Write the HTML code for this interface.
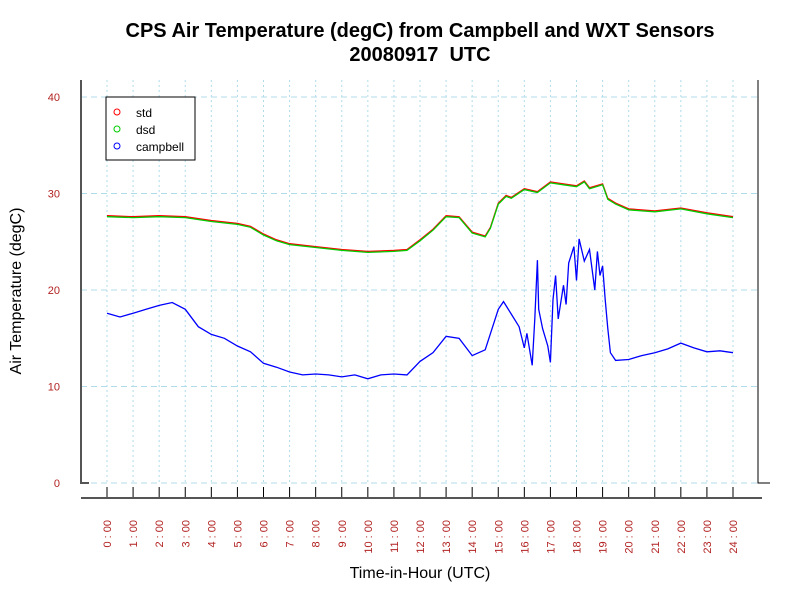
<!DOCTYPE html>
<html><head><meta charset="utf-8"><style>
body{margin:0;background:#fff;}
svg{display:block;font-family:"Liberation Sans",sans-serif;}
</style></head><body>
<svg id="chart" width="800" height="600" viewBox="0 0 800 600">
<text x="420" y="37" text-anchor="middle" font-size="20" font-weight="bold">CPS Air Temperature (degC) from Campbell and WXT Sensors</text>
<text x="420" y="61" text-anchor="middle" font-size="20" font-weight="bold">20080917&#160;&#160;UTC</text>
<text transform="translate(21,291) rotate(-90)" text-anchor="middle" font-size="16">Air Temperature (degC)</text>
<text x="420" y="578" text-anchor="middle" font-size="16">Time-in-Hour (UTC)</text>
<g id="grid"></g><g id="axes"></g><g id="series"></g>
<g>
<rect x="106" y="97" width="89" height="63" fill="#fff" stroke="#000"/>
<circle cx="117" cy="112" r="3" fill="none" stroke="#f00"/><text x="136" y="117" font-size="12">std</text>
<circle cx="117" cy="129" r="3" fill="none" stroke="#0c0"/><text x="136" y="134" font-size="12">dsd</text>
<circle cx="117" cy="146" r="3" fill="none" stroke="#00f"/><text x="136" y="151" font-size="12">campbell</text>
</g>
</svg>
<script>
const yTicks=[0,10,20,30,40];
const hours=[0,1,2,3,4,5,6,7,8,9,10,11,12,13,14,15,16,17,18,19,20,21,22,23,24];
const stdT=[0,1,2,3,4,5,5.5,6,6.5,7,8,9,10,11,11.5,12,12.5,13,13.5,14,14.5,14.7,15,15.3,15.5,16,16.5,17,17.5,18,18.3,18.5,19,19.2,19.5,20,21,22,23,24];
const stdV=[27.7,27.6,27.7,27.6,27.2,26.9,26.6,25.8,25.2,24.8,24.5,24.2,24.0,24.1,24.2,25.2,26.3,27.7,27.6,26.0,25.6,26.5,29.0,29.8,29.6,30.5,30.2,31.2,31.0,30.8,31.3,30.6,31.0,29.5,29.0,28.4,28.2,28.5,28.0,27.6];
const dsdV=[27.6,27.5,27.6,27.5,27.1,26.8,26.5,25.7,25.1,24.7,24.4,24.1,23.9,24.0,24.1,25.1,26.2,27.6,27.5,25.9,25.5,26.4,28.9,29.7,29.5,30.4,30.1,31.1,30.9,30.7,31.2,30.5,30.9,29.4,28.9,28.3,28.1,28.4,27.9,27.5];
const campT=[0,0.5,1,1.5,2,2.5,3,3.5,4,4.5,5,5.5,6,6.5,7,7.5,8,8.5,9,9.5,10,10.5,11,11.5,12,12.5,13,13.5,14,14.5,15,15.2,15.5,15.8,16,16.1,16.3,16.4,16.5,16.55,16.7,16.9,17,17.1,17.2,17.3,17.5,17.6,17.7,17.9,18,18.1,18.3,18.5,18.7,18.8,18.9,19,19.1,19.2,19.3,19.5,20,20.5,21,21.5,22,22.5,23,23.5,24];
const campV=[17.6,17.2,17.6,18.0,18.4,18.7,18.0,16.2,15.4,15.0,14.2,13.6,12.4,12.0,11.5,11.2,11.3,11.2,11.0,11.2,10.8,11.2,11.3,11.2,12.6,13.5,15.2,15.0,13.2,13.8,18.0,18.8,17.5,16.2,14.0,15.5,12.2,17.0,23.1,18.0,16.0,14.2,12.5,19.0,21.5,17.0,20.5,18.5,22.8,24.5,21.0,25.3,23.0,24.2,20.0,24.0,21.5,22.5,19.0,16.0,13.5,12.7,12.8,13.2,13.5,13.9,14.5,14.0,13.6,13.7,13.5];
const NS='http://www.w3.org/2000/svg';
const X=h=>107+h*(733-107)/24;
const Y=v=>483-v*(483-97)/40;
function mk(tag,attrs,parent){const e=document.createElementNS(NS,tag);for(const k in attrs)e.setAttribute(k,attrs[k]);parent.appendChild(e);return e;}
const grid=document.getElementById('grid'),axes=document.getElementById('axes'),series=document.getElementById('series');
yTicks.forEach(v=>{
 const l=mk('line',{x1:81,x2:758,y1:Y(v),y2:Y(v),stroke:'#b0dcea','stroke-dasharray':'6,4'},grid);
 
 
 const t=mk('text',{x:60,y:Y(v)+4,'text-anchor':'end','font-size':11,fill:'#b22222'},axes);t.textContent=v;
 
 
});
hours.forEach(h=>{
 const l=mk('line',{x1:X(h),x2:X(h),y1:80,y2:483,stroke:'#b0dcea','stroke-dasharray':'2,3'},grid);
 
 
 mk('line',{x1:X(h),x2:X(h),y1:487,y2:498,stroke:'#000'},axes);
 const t=mk('text',{transform:`translate(${X(h)+4},${520}) rotate(-90)`,'text-anchor':'end','font-size':11,fill:'#b22222'},axes);t.textContent=h+' : 00';
 
 
});
mk('path',{d:'M81,80 V483 H89',fill:'none',stroke:'#555','stroke-width':2},axes);
mk('path',{d:'M758,80 V483 H770',fill:'none',stroke:'#000','stroke-width':1},axes);
mk('line',{x1:81,x2:762,y1:498,y2:498,stroke:'#555','stroke-width':2},axes);
function line(ts,vs,col,name){
 const d=ts.map((t,i)=>(i?'L':'M')+X(t).toFixed(1)+','+Y(vs[i]).toFixed(1)).join('');
 const p=mk('path',{d:d,fill:'none',stroke:col,'stroke-width':1.3},series);
 
 
}
line(stdT,stdV,'#f00','std-line');
line(stdT,dsdV,'#0c0','dsd-line');
line(campT,campV,'#00f','campbell-line');
</script>
</body></html>
